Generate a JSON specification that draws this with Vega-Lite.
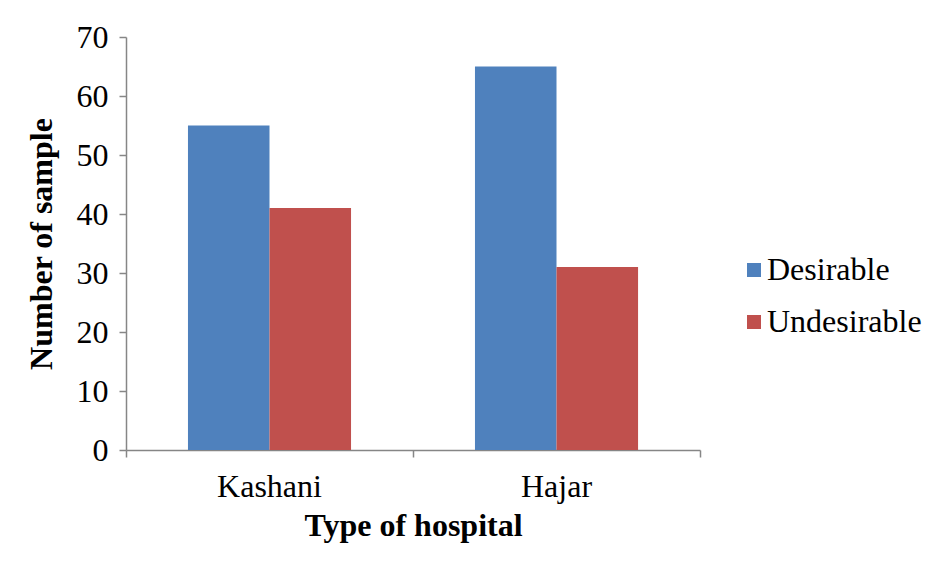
{
  "$schema": "https://vega.github.io/schema/vega-lite/v6.json",
  "autosize": {"type": "none"},
  "padding": {"left": 126, "top": 37, "right": 225, "bottom": 119},
  "width": 574,
  "height": 413,
  "background": "white",
  "data": {
    "values": [
      {"hospital": "Kashani", "status": "Desirable", "count": 55},
      {"hospital": "Kashani", "status": "Undesirable", "count": 41},
      {"hospital": "Hajar", "status": "Desirable", "count": 65},
      {"hospital": "Hajar", "status": "Undesirable", "count": 31}
    ]
  },
  "mark": {"type": "bar"},
  "encoding": {
    "x": {
      "field": "hospital",
      "type": "nominal",
      "sort": ["Kashani", "Hajar"],
      "scale": {"paddingInner": 0, "paddingOuter": 0},
      "axis": {
        "title": "Type of hospital",
        "labelAngle": 0,
        "bandPosition": 1,
        "tickExtra": true,
        "labelPadding": 14,
        "titlePadding": 8
      }
    },
    "xOffset": {
      "field": "status",
      "type": "nominal",
      "scale": {"paddingInner": 0, "paddingOuter": 0.76}
    },
    "y": {
      "field": "count",
      "type": "quantitative",
      "scale": {"domain": [0, 70]},
      "axis": {
        "title": "Number of sample",
        "values": [0, 10, 20, 30, 40, 50, 60, 70],
        "grid": false,
        "labelPadding": 11,
        "titlePadding": 18
      }
    },
    "color": {
      "field": "status",
      "type": "nominal",
      "scale": {"domain": ["Desirable", "Undesirable"], "range": ["#4F81BD", "#C0504D"]},
      "legend": {
        "title": null,
        "orient": "none",
        "legendX": 612,
        "legendY": 217,
        "symbolType": "square",
        "symbolSize": 196,
        "symbolStrokeWidth": 0,
        "rowPadding": 20,
        "labelFontSize": 32,
        "labelFont": "Liberation Serif",
        "labelColor": "#000000",
        "labelOffset": -3,
        "labelLimit": 300
      }
    }
  },
  "config": {
    "font": "Liberation Serif",
    "view": {"stroke": null},
    "axis": {
      "labelFont": "Liberation Serif",
      "labelFontSize": 32,
      "labelColor": "#000000",
      "titleFont": "Liberation Serif",
      "titleFontSize": 32,
      "titleFontWeight": "bold",
      "titleColor": "#000000",
      "domainColor": "#868686",
      "tickColor": "#868686",
      "domainWidth": 1.5,
      "tickWidth": 1.5,
      "tickSize": 7
    }
  }
}
